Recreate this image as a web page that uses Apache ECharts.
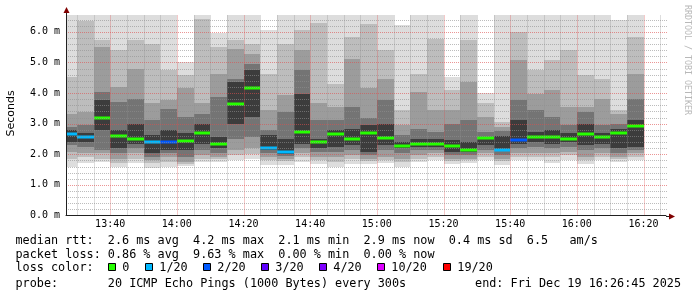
<!DOCTYPE html>
<html><head><meta charset="utf-8">
<script src="https://cdn.jsdelivr.net/npm/echarts@6/dist/echarts.min.js"></script>
<style>html,body{margin:0;padding:0;background:#fff}#c{width:697px;height:297px}</style>
</head><body><div id="c"></div>
<script>
// ---- data ----
const endClock = '16:26:45';
const spanMinutes = 180;
const stepMinutes = 5;
const columnEnd = ['13:30','13:35','13:40','13:45','13:50','13:55','14:00','14:05','14:10','14:15','14:20','14:25','14:30','14:35','14:40','14:45','14:50','14:55','15:00','15:05','15:10','15:15','15:20','15:25','15:30','15:35','15:40','15:45','15:50','15:55','16:00','16:05','16:10','16:15','16:20'];
const median   = [2.66,2.57,3.20,2.61,2.50,2.39,2.41,2.42,2.71,2.35,3.64,4.17,2.21,2.08,2.74,2.40,2.66,2.49,2.68,2.53,2.27,2.33,2.34,2.28,2.14,2.53,2.14,2.46,2.57,2.57,2.50,2.65,2.58,2.70,2.92];
const lossCount= [1,1,0,0,0,1,2,0,0,0,0,0,1,1,0,0,0,0,0,0,0,0,0,0,0,0,1,2,0,0,0,0,0,0,0];
// smoke layers (outer -> inner), low/high edge of each layer
const smokeMin = [1.59,1.72,1.75,1.59,1.70,1.54,1.59,1.61,1.75,1.75,1.81,1.83,1.65,1.65,1.75,1.68,1.59,1.68,1.68,1.70,1.59,1.75,1.81,1.68,1.72,1.81,1.65,1.81,1.81,1.72,1.81,1.68,1.81,1.75,1.81];
const smokeMax = [6.6,6.6,6.6,6.6,6.6,6.6,6.6,5.01,6.6,5.95,6.6,6.6,6.06,6.6,6.6,6.6,6.6,6.6,6.6,6.6,6.22,6.6,6.6,4.53,6.6,4.0,6.6,6.6,6.6,6.6,6.6,6.6,6.6,6.38,6.6];
const layerBLo = [1.86,1.92,1.86,1.70,1.86,1.70,1.75,1.68,1.86,1.83,1.97,2.00,1.81,1.78,1.92,1.81,1.75,1.83,1.79,1.81,1.75,1.86,1.92,1.79,1.81,1.92,1.78,1.92,1.92,1.92,1.97,1.81,1.92,1.83,1.92];
const layerBHi = [4.53,6.35,5.72,5.40,5.72,5.61,4.74,4.58,6.43,5.50,5.72,5.61,4.63,5.61,6.05,6.30,4.31,5.83,6.27,5.40,3.44,4.63,5.78,4.09,5.72,3.66,3.06,5.99,4.74,5.07,5.40,4.58,4.47,3.44,5.83];
const layerCLo = [2.08,2.05,2.03,1.86,2.03,1.81,1.92,1.75,1.97,1.92,2.13,2.19,1.92,1.85,2.03,1.92,1.92,1.97,1.86,1.92,1.86,1.97,2.03,1.86,1.86,2.03,1.86,2.03,2.03,2.03,2.08,1.92,2.03,1.92,2.03];
const layerCHi = [3.33,3.38,5.50,4.20,4.80,3.66,3.77,4.15,3.66,4.63,5.45,5.29,3.44,3.93,5.40,3.66,3.55,5.12,4.15,4.47,2.95,4.04,3.44,3.44,4.36,3.22,2.90,5.07,3.98,4.09,3.55,3.55,3.82,3.33,4.63];
const layerDLo = [2.30,2.24,2.13,2.03,2.19,1.92,2.03,1.92,2.13,2.03,2.51,2.57,2.03,1.95,2.19,2.08,2.08,2.13,1.97,2.13,2.03,2.13,2.13,1.97,1.97,2.13,1.97,2.19,2.24,2.19,2.24,2.13,2.19,2.03,2.13];
const layerDHi = [2.90,2.95,4.04,3.71,3.82,3.11,3.49,3.22,3.33,3.88,4.47,4.96,2.79,3.38,4.74,3.11,3.11,3.55,3.17,3.77,2.62,2.84,2.73,3.00,3.11,2.73,2.75,3.77,3.44,3.22,2.95,3.38,2.95,3.00,3.82];
const layerELo = [2.41,2.41,2.79,2.19,2.35,2.03,2.13,2.13,2.35,2.19,3.00,3.22,2.15,2.00,2.35,2.19,2.24,2.30,2.08,2.30,2.19,2.24,2.24,2.08,2.08,2.30,2.10,2.35,2.41,2.35,2.41,2.30,2.35,2.19,2.24];
const layerEHi = [2.79,2.68,3.77,2.79,3.00,2.62,2.79,2.68,3.00,2.57,4.36,4.74,2.62,2.50,3.98,2.51,2.79,2.84,2.95,3.00,2.41,2.51,2.51,2.46,2.41,2.57,2.60,3.11,2.73,2.79,2.68,3.00,2.68,2.84,3.11];
const xTickLabels = ['13:40','14:00','14:20','14:40','15:00','15:20','15:40','16:00','16:20'];
const yTickLabels = ['0.0 m','1.0 m','2.0 m','3.0 m','4.0 m','5.0 m','6.0 m'];
const yMax = 6.55;
const lossLevels = [0,1,2,3,4,10,19];
const lossLabels = ['0','1/20','2/20','3/20','4/20','10/20','19/20'];
const lossColors = ['#26ff00','#00b8ff','#0059ff','#5e00ff','#7e00ff','#dd00ff','#ff0000'];
const layerColors = ['#dddddd','#bdbdbd','#9c9c9c','#747474','#3c3c3c'];
const legendRows = [
  'median rtt:  2.6 ms avg  4.2 ms max  2.1 ms min  2.9 ms now  0.4 ms sd  6.5   am/s',
  'packet loss: 0.86 % avg  9.63 % max  0.00 % min  0.00 % now',
  'loss color:',
  'probe:       20 ICMP Echo Pings (1000 Bytes) every 300s'
];
const endLabel = 'end: Fri Dec 19 16:26:45 2025';

// ---- helpers ----
const toMin = s => { const p = s.split(':').map(Number); return p[0]*60 + p[1] + (p[2]||0)/60; };
const fmtHM = m => { const h = Math.floor(m/60), mm = Math.round(m - h*60); return String(h).padStart(2,'0')+':'+String(mm).padStart(2,'0'); };
const xMax = toMin(endClock), xMin = xMax - spanMinutes;
const lossColor = n => { let c = lossColors[0]; lossLevels.forEach((l,i)=>{ if (n >= l) c = lossColors[i]; }); return c; };

const smokeData = columnEnd.map((t,i)=>[toMin(t), smokeMin[i], smokeMax[i], layerBLo[i], layerBHi[i], layerCLo[i], layerCHi[i], layerDLo[i], layerDHi[i], layerELo[i], layerEHi[i]]);
const medianData = columnEnd.map((t,i)=>[toMin(t), median[i], lossCount[i]]);
const vGrid = [];
for (let t = toMin(columnEnd[0]); t < xMax; t += stepMinutes) vGrid.push([t, (Math.round(t) % 20 === 0) ? 1 : 0]);
const hGrid = [];
for (let k = 1; k * 0.2 < yMax; k++) hGrid.push([+(k*0.2).toFixed(1), (k % 5 === 0) ? 1 : 0]);

const G = {left:66, top:15, right:31, bottom:81.5};
const MAJOR = 'rgba(222,79,79,0.6)', MINOR = 'rgba(143,143,143,0.6)';

function clipR(shape, cs){ return echarts.graphic.clipRectByRect(shape, {x:cs.x, y:cs.y, width:cs.width, height:cs.height}); }

const chart = echarts.init(document.getElementById('c'), null, {renderer:'canvas'});
const option = {
  animation:false,
  backgroundColor:'#ffffff',
  grid:{left:G.left, top:G.top, right:G.right, bottom:G.bottom, containLabel:false},
  xAxis:{type:'value', min:xMin, max:xMax, z:10,
    axisLine:{show:true, lineStyle:{color:'#212121', width:1}},
    axisTick:{show:false}, splitLine:{show:false},
    axisLabel:{customValues: xTickLabels.map(toMin), formatter: v=>fmtHM(v), fontFamily:'DejaVu Sans Mono', fontSize:10, color:'#000', margin:4}
  },
  yAxis:{type:'value', min:0, max:yMax, interval:1, z:10,
    axisLine:{show:true, lineStyle:{color:'#212121', width:1}},
    axisTick:{show:false}, splitLine:{show:false},
    axisLabel:{formatter: v => (Math.abs(v-Math.round(v))<1e-6 && yTickLabels[Math.round(v)]) ? yTickLabels[Math.round(v)] : '', showMaxLabel:false,
      fontFamily:'DejaVu Sans Mono', fontSize:10, color:'#000', margin:6}
  },
  series:[
    {type:'custom', name:'smoke', z:2, data:smokeData, encode:{x:0, y:[1,2]},
      renderItem:(params, api)=>{
        const t1 = api.value(0), t0 = t1 - stepMinutes;
        const children = [];
        for (let k=0;k<5;k++){
          const lo = api.value(1+2*k), hi = api.value(2+2*k);
          const a = api.coord([t0, hi]), b = api.coord([t1, lo]);
          const x0 = Math.round(a[0]), x1 = Math.round(b[0]);
          const y0 = Math.round(a[1]), y1 = Math.round(b[1]);
          const s = clipR({x:x0, y:y0, width:x1-x0, height:y1-y0}, params.coordSys);
          if (s) children.push({type:'rect', shape:s, style:{fill:layerColors[k]}});
        }
        return {type:'group', children};
      }},
    {type:'custom', name:'median', z:3, data:medianData, encode:{x:0, y:1},
      renderItem:(params, api)=>{
        const t1 = api.value(0), t0 = t1 - stepMinutes, m = api.value(1);
        const a = api.coord([t0, m]), b = api.coord([t1, m]);
        const x0 = Math.round(a[0]), x1 = Math.round(b[0]);
        const s = clipR({x:x0, y:Math.round(a[1])-1.5, width:x1-x0, height:3}, params.coordSys);
        return s ? {type:'rect', shape:s, style:{fill:lossColor(api.value(2))}} : null;
      }},
    {type:'custom', name:'vgrid', z:4, silent:true, data:vGrid, encode:{x:0},
      renderItem:(params, api)=>{
        const t = api.value(0);
        const a = api.coord([t, 0]), b = api.coord([t, yMax]);
        const x = Math.round(a[0]) + 0.5;
        return {type:'line', shape:{x1:x, y1:a[1], x2:x, y2:b[1]}, style:{stroke: api.value(1) ? MAJOR : MINOR, lineWidth:1, lineDash:[1,1]}};
      }},
    {type:'custom', name:'hgrid', z:4, silent:true, data:hGrid.map(d=>[xMin, d[0], d[1]]), encode:{x:0, y:1},
      renderItem:(params, api)=>{
        const v = api.value(1);
        const a = api.coord([xMin, v]), b = api.coord([xMax, v]);
        const y = Math.round(a[1]) + 0.5;
        return {type:'line', shape:{x1:a[0], y1:y, x2:b[0]+2, y2:y}, style:{stroke: api.value(2) ? MAJOR : MINOR, lineWidth:1, lineDash:[1,1]}};
      }}
  ]
};
chart.setOption(option);

// ---- decorations: arrows, titles, legend text ----
const o = chart.convertToPixel({gridIndex:0}, [xMin, 0]);
const e = chart.convertToPixel({gridIndex:0}, [xMax, yMax]);
const ax = Math.round(o[0]) + 0.5, ay = Math.round(o[1]) + 0.5;
const mono = 'DejaVu Sans Mono';
const graphics = [
  {type:'line', shape:{x1:e[0], y1:ay, x2:e[0]+3, y2:ay}, style:{stroke:'#212121', lineWidth:1}, z:20},
  {type:'line', shape:{x1:ax, y1:e[1], x2:ax, y2:e[1]-2}, style:{stroke:'#212121', lineWidth:1}, z:20},
  {type:'polygon', shape:{points:[[e[0]+3, ay-3],[e[0]+9, ay],[e[0]+3, ay+3]]}, style:{fill:'#800000'}, z:20},
  {type:'polygon', shape:{points:[[ax-3, e[1]-2],[ax, e[1]-8],[ax+3, e[1]-2]]}, style:{fill:'#800000'}, z:20},
  {type:'text', x:11, y:113.5, rotation:Math.PI/2, style:{text:'Seconds', font:'11px "DejaVu Sans"', fill:'#000', align:'center', verticalAlign:'middle'}, z:20},
  {type:'text', x:687.5, y:5, rotation:-Math.PI/2, style:{text:'RRDTOOL / TOBI OETIKER', font:'8.3px "DejaVu Sans Mono"', fill:'#b8b8b8', align:'left', verticalAlign:'middle'}, z:20}
];
const rowY = [241, 255.2, 268.2, 283.6];
legendRows.forEach((t,i)=>graphics.push({type:'text', x:15.5, y:rowY[i], style:{text:t, font:'11.8px "'+mono+'"', fill:'#000', align:'left', verticalAlign:'middle'}, z:20}));
graphics.push({type:'text', x:681, y:rowY[3], style:{text:endLabel, font:'11.8px "'+mono+'"', fill:'#000', align:'right', verticalAlign:'middle'}, z:20});
const boxX = [108.5,145.5,203.5,261.5,319.5,377.5,443.5];
lossLabels.forEach((lab,i)=>{
  graphics.push({type:'rect', shape:{x:boxX[i], y:263.5, width:7, height:7}, style:{fill:lossColors[i], stroke:'#000', lineWidth:1}, z:20});
  graphics.push({type:'text', x:boxX[i]+13.8, y:rowY[2], style:{text:lab, font:'11.8px "'+mono+'"', fill:'#000', align:'left', verticalAlign:'middle'}, z:20});
});
chart.setOption({graphic: graphics});
</script>
</body></html>
